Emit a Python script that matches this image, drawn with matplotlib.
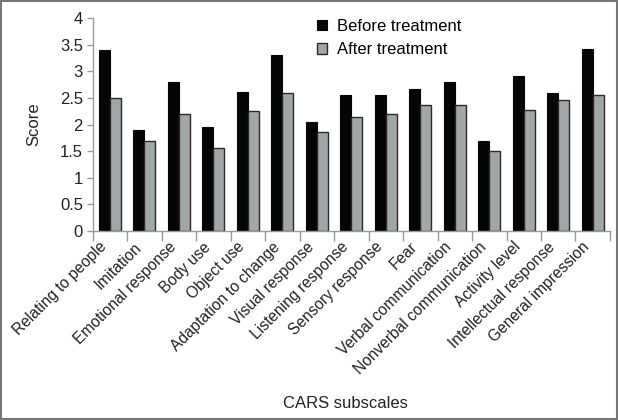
import matplotlib.pyplot as plt
import numpy as np
from matplotlib.patches import Rectangle

plt.rcParams['font.family'] = ['Liberation Sans', 'DejaVu Sans']

# CARS subscale scores
subscales = ["Relating to people", "Imitation", "Emotional response", "Body use",
             "Object use", "Adaptation to change", "Visual response",
             "Listening response", "Sensory response", "Fear",
             "Verbal communication", "Nonverbal communication", "Activity level",
             "Intellectual response", "General impression"]
before = [3.40, 1.89, 2.79, 1.95, 2.62, 3.30, 2.05, 2.56, 2.56, 2.66, 2.80, 1.70, 2.91, 2.60, 3.41]
after = [2.49, 1.69, 2.19, 1.56, 2.26, 2.59, 1.86, 2.14, 2.20, 2.37, 2.37, 1.50, 2.27, 2.47, 2.56]
yticks = [0, 0.5, 1, 1.5, 2, 2.5, 3, 3.5, 4]

txt = '#222222'
fs = 12

fig = plt.figure(figsize=(6.18, 4.2), dpi=100)
ax = fig.add_axes([0.150, 0.45, 0.837, 0.507])

x = np.arange(len(subscales))
w = 0.32
ax.bar(x - w / 2, before, w, color='#050505', edgecolor='#050505', linewidth=0.8,
       label='Before treatment')
ax.bar(x + w / 2, after, w, color='#a3a6a6', edgecolor='#2a2a2a', linewidth=1.0,
       label='After treatment')

ax.set_xlim(-0.5, len(subscales) - 0.5)
ax.set_ylim(0, 4)
ax.set_yticks(yticks)
ax.set_yticklabels([f"{v:g}" for v in yticks], fontsize=fs, color=txt)
ax.tick_params(axis='y', length=4, color='#999999', width=1, pad=3)

ax.set_xticks(x)
ax.set_xticklabels(subscales, rotation=45, ha='right', fontsize=11.2, color=txt)
ax.tick_params(axis='x', length=0, pad=6)
ax.set_xticks(np.arange(len(subscales) + 1) - 0.5, minor=True)
ax.tick_params(axis='x', which='minor', length=7, color='#999999', width=1)

for s in ['top', 'right']:
    ax.spines[s].set_visible(False)
for s in ['left', 'bottom']:
    ax.spines[s].set_color('#999999')
    ax.spines[s].set_linewidth(1)

ax.set_ylabel('Score', fontsize=fs, color=txt)
ax.yaxis.set_label_coords(-0.100, 0.5)
fig.text(345 / 618, 1 - 403 / 420, 'CARS subscales', fontsize=fs,
         color=txt, ha='center', va='center')

ax.legend(loc='upper left', bbox_to_anchor=(317 / 618, 1 - 19 / 420),
          bbox_transform=fig.transFigure, frameon=False, borderpad=0,
          borderaxespad=0, fontsize=fs, handlelength=0.6, handleheight=0.6,
          handletextpad=0.6, labelspacing=0.5)

fig.add_artist(Rectangle((0.002, 0.003), 0.996, 0.994, transform=fig.transFigure,
                         fill=False, edgecolor='#777777', linewidth=1.5))

fig.savefig('out.png', dpi=100)
